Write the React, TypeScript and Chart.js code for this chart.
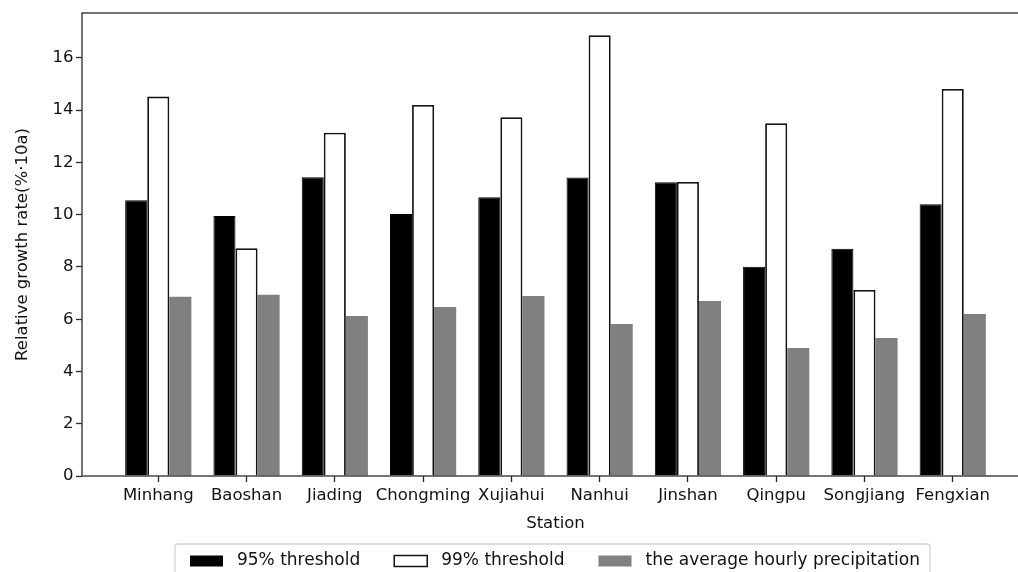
import React, { useEffect, useRef } from "react";
import { Chart, registerables } from "chart.js";

Chart.register(...registerables);

const stations = ["Minhang", "Baoshan", "Jiading", "Chongming", "Xujiahui", "Nanhui", "Jinshan", "Qingpu", "Songjiang", "Fengxian"];
const threshold95 = [10.55, 9.95, 11.43, 10.03, 10.67, 11.42, 11.24, 8.01, 8.7, 10.4];
const threshold99 = [14.52, 8.72, 13.14, 14.2, 13.73, 16.87, 11.25, 13.5, 7.12, 14.81];
const avgHourly = [6.86, 6.94, 6.12, 6.47, 6.89, 5.82, 6.7, 4.9, 5.28, 6.2];
const yTicks = [0, 2, 4, 6, 8, 10, 12, 14, 16];
const seriesLabels = ["95% threshold", "99% threshold", "the average hourly precipitation"];
const xTitle = "Station";
const yTitle = "Relative growth rate(%\u00b710a)";

const FAMILY = "'DejaVu Sans', sans-serif";
const FSIZE = 16.5;
const LEGEND_FSIZE = 17;

const framePlugin = {
  id: "frame",
  afterDraw(chart: any) {
    const { ctx, chartArea } = chart;
    ctx.save();
    ctx.strokeStyle = "#2b2b2b";
    ctx.lineWidth = 1.3;
    ctx.strokeRect(chartArea.left, chartArea.top, chartArea.right - chartArea.left, chartArea.bottom - chartArea.top);
    ctx.restore();
  },
};

const legendPlugin = {
  id: "boxLegend",
  afterDraw(chart: any) {
    const { ctx, chartArea } = chart;
    ctx.save();
    ctx.font = `${LEGEND_FSIZE}px ${FAMILY}`;
    const sw = 33, sh = 11, gap = 14, colGap = 34, padL = 15, padR = 10;
    const items = chart.data.datasets.map((ds: any) => ({
      label: ds.label,
      fill: ds.backgroundColor,
      stroke: ds.legendEdge,
      w: ctx.measureText(ds.label).width,
    }));
    const content = items.reduce((s: number, it: any, i: number) => s + sw + gap + it.w + (i ? colGap : 0), 0);
    const W = padL + content + padR;
    const cx = (chartArea.left + chartArea.right) / 2 - 3;
    const left = cx - W / 2;
    const top = chartArea.bottom + 68;
    const H = 40;
    ctx.beginPath();
    if ((ctx as any).roundRect) (ctx as any).roundRect(left, top, W, H, 3);
    else ctx.rect(left, top, W, H);
    ctx.fillStyle = "#ffffff";
    ctx.fill();
    ctx.strokeStyle = "#d4d4d4";
    ctx.lineWidth = 1.3;
    ctx.stroke();
    let x = left + padL;
    const cy = top + 17;
    for (const it of items) {
      ctx.fillStyle = it.fill;
      ctx.fillRect(x, cy - sh / 2, sw, sh);
      if (it.stroke) {
        ctx.strokeStyle = it.stroke;
        ctx.lineWidth = 1.5;
        ctx.strokeRect(x, cy - sh / 2, sw, sh);
      }
      ctx.fillStyle = "#111111";
      ctx.textBaseline = "middle";
      ctx.textAlign = "left";
      ctx.fillText(it.label, x + sw + gap, cy);
      x += sw + gap + it.w + colGap;
    }
    ctx.restore();
  },
};

export default function App() {
  const ref = useRef<HTMLCanvasElement>(null);

  useEffect(() => {
    if (!ref.current) return;
    const toPts = (arr: number[]) => arr.map((v, i) => ({ x: i, y: v }));
    const chart = new Chart(ref.current, {
      type: "bar",
      data: {
        datasets: [
          {
            label: seriesLabels[0],
            data: toPts(threshold95) as any,
            backgroundColor: "#000000",
            borderColor: "#000000",
            borderWidth: 1,
            legendEdge: null,
          } as any,
          {
            label: seriesLabels[1],
            data: toPts(threshold99) as any,
            backgroundColor: "#ffffff",
            borderColor: "#111111",
            borderWidth: 1.8,
            legendEdge: "#111111",
          } as any,
          {
            label: seriesLabels[2],
            data: toPts(avgHourly) as any,
            backgroundColor: "#808080",
            borderColor: "#808080",
            borderWidth: 0,
            legendEdge: null,
          } as any,
        ],
      },
      options: {
        responsive: false,
        animation: false,
        events: [],
        layout: { padding: { top: 13, left: 0, right: 83, bottom: 0 } },
        datasets: { bar: { barPercentage: 1, categoryPercentage: 0.75, borderSkipped: "start" } } as any,
        plugins: { legend: { display: false }, tooltip: { enabled: false } },
        scales: {
          x: {
            type: "linear",
            offset: false,
            min: -0.864,
            max: 9.864,
            border: { display: false },
            grid: { display: true, drawOnChartArea: false, drawTicks: true, tickLength: 6, tickColor: "#2b2b2b", tickWidth: 1.3, offset: false } as any,
            afterBuildTicks: (s: any) => {
              s.ticks = stations.map((_, i) => ({ value: i }));
            },
            afterFit: (s: any) => {
              s.height = 124;
              s.paddingLeft = 0;
              s.paddingRight = 0;
            },
            ticks: {
              autoSkip: false,
              maxRotation: 0,
              minRotation: 0,
              padding: 3.4,
              color: "#111111",
              font: { family: FAMILY, size: FSIZE },
              callback: (v: any) => stations[v] ?? "",
            },
            title: {
              display: true,
              text: xTitle,
              color: "#111111",
              font: { family: FAMILY, size: FSIZE },
              padding: { top: 0, bottom: 66.1 },
            },
          },
          y: {
            type: "linear",
            min: 0,
            max: 17.72,
            border: { display: false },
            grid: { display: true, drawOnChartArea: false, drawTicks: true, tickLength: 6, tickColor: "#2b2b2b", tickWidth: 1.3 } as any,
            afterBuildTicks: (s: any) => {
              s.ticks = yTicks.map((v) => ({ value: v }));
            },
            afterFit: (s: any) => {
              s.width = 82;
              s.paddingTop = 0;
              s.paddingBottom = 0;
            },
            ticks: {
              padding: 2.5,
              color: "#111111",
              font: { family: FAMILY, size: FSIZE },
              callback: (v: any) => String(v),
            },
            title: {
              display: true,
              text: yTitle,
              color: "#111111",
              font: { family: FAMILY, size: FSIZE },
              padding: { top: 12.4, bottom: 0 },
            },
          },
        },
      },
      plugins: [framePlugin, legendPlugin],
    });
    return () => chart.destroy();
  }, []);

  return (
    <div style={{ position: "fixed", left: 0, top: 0, width: 1018, height: 572, overflow: "hidden", background: "#ffffff" }}>
      <canvas ref={ref} width={1112} height={600} style={{ display: "block", width: 1112, height: 600 }} />
    </div>
  );
}
